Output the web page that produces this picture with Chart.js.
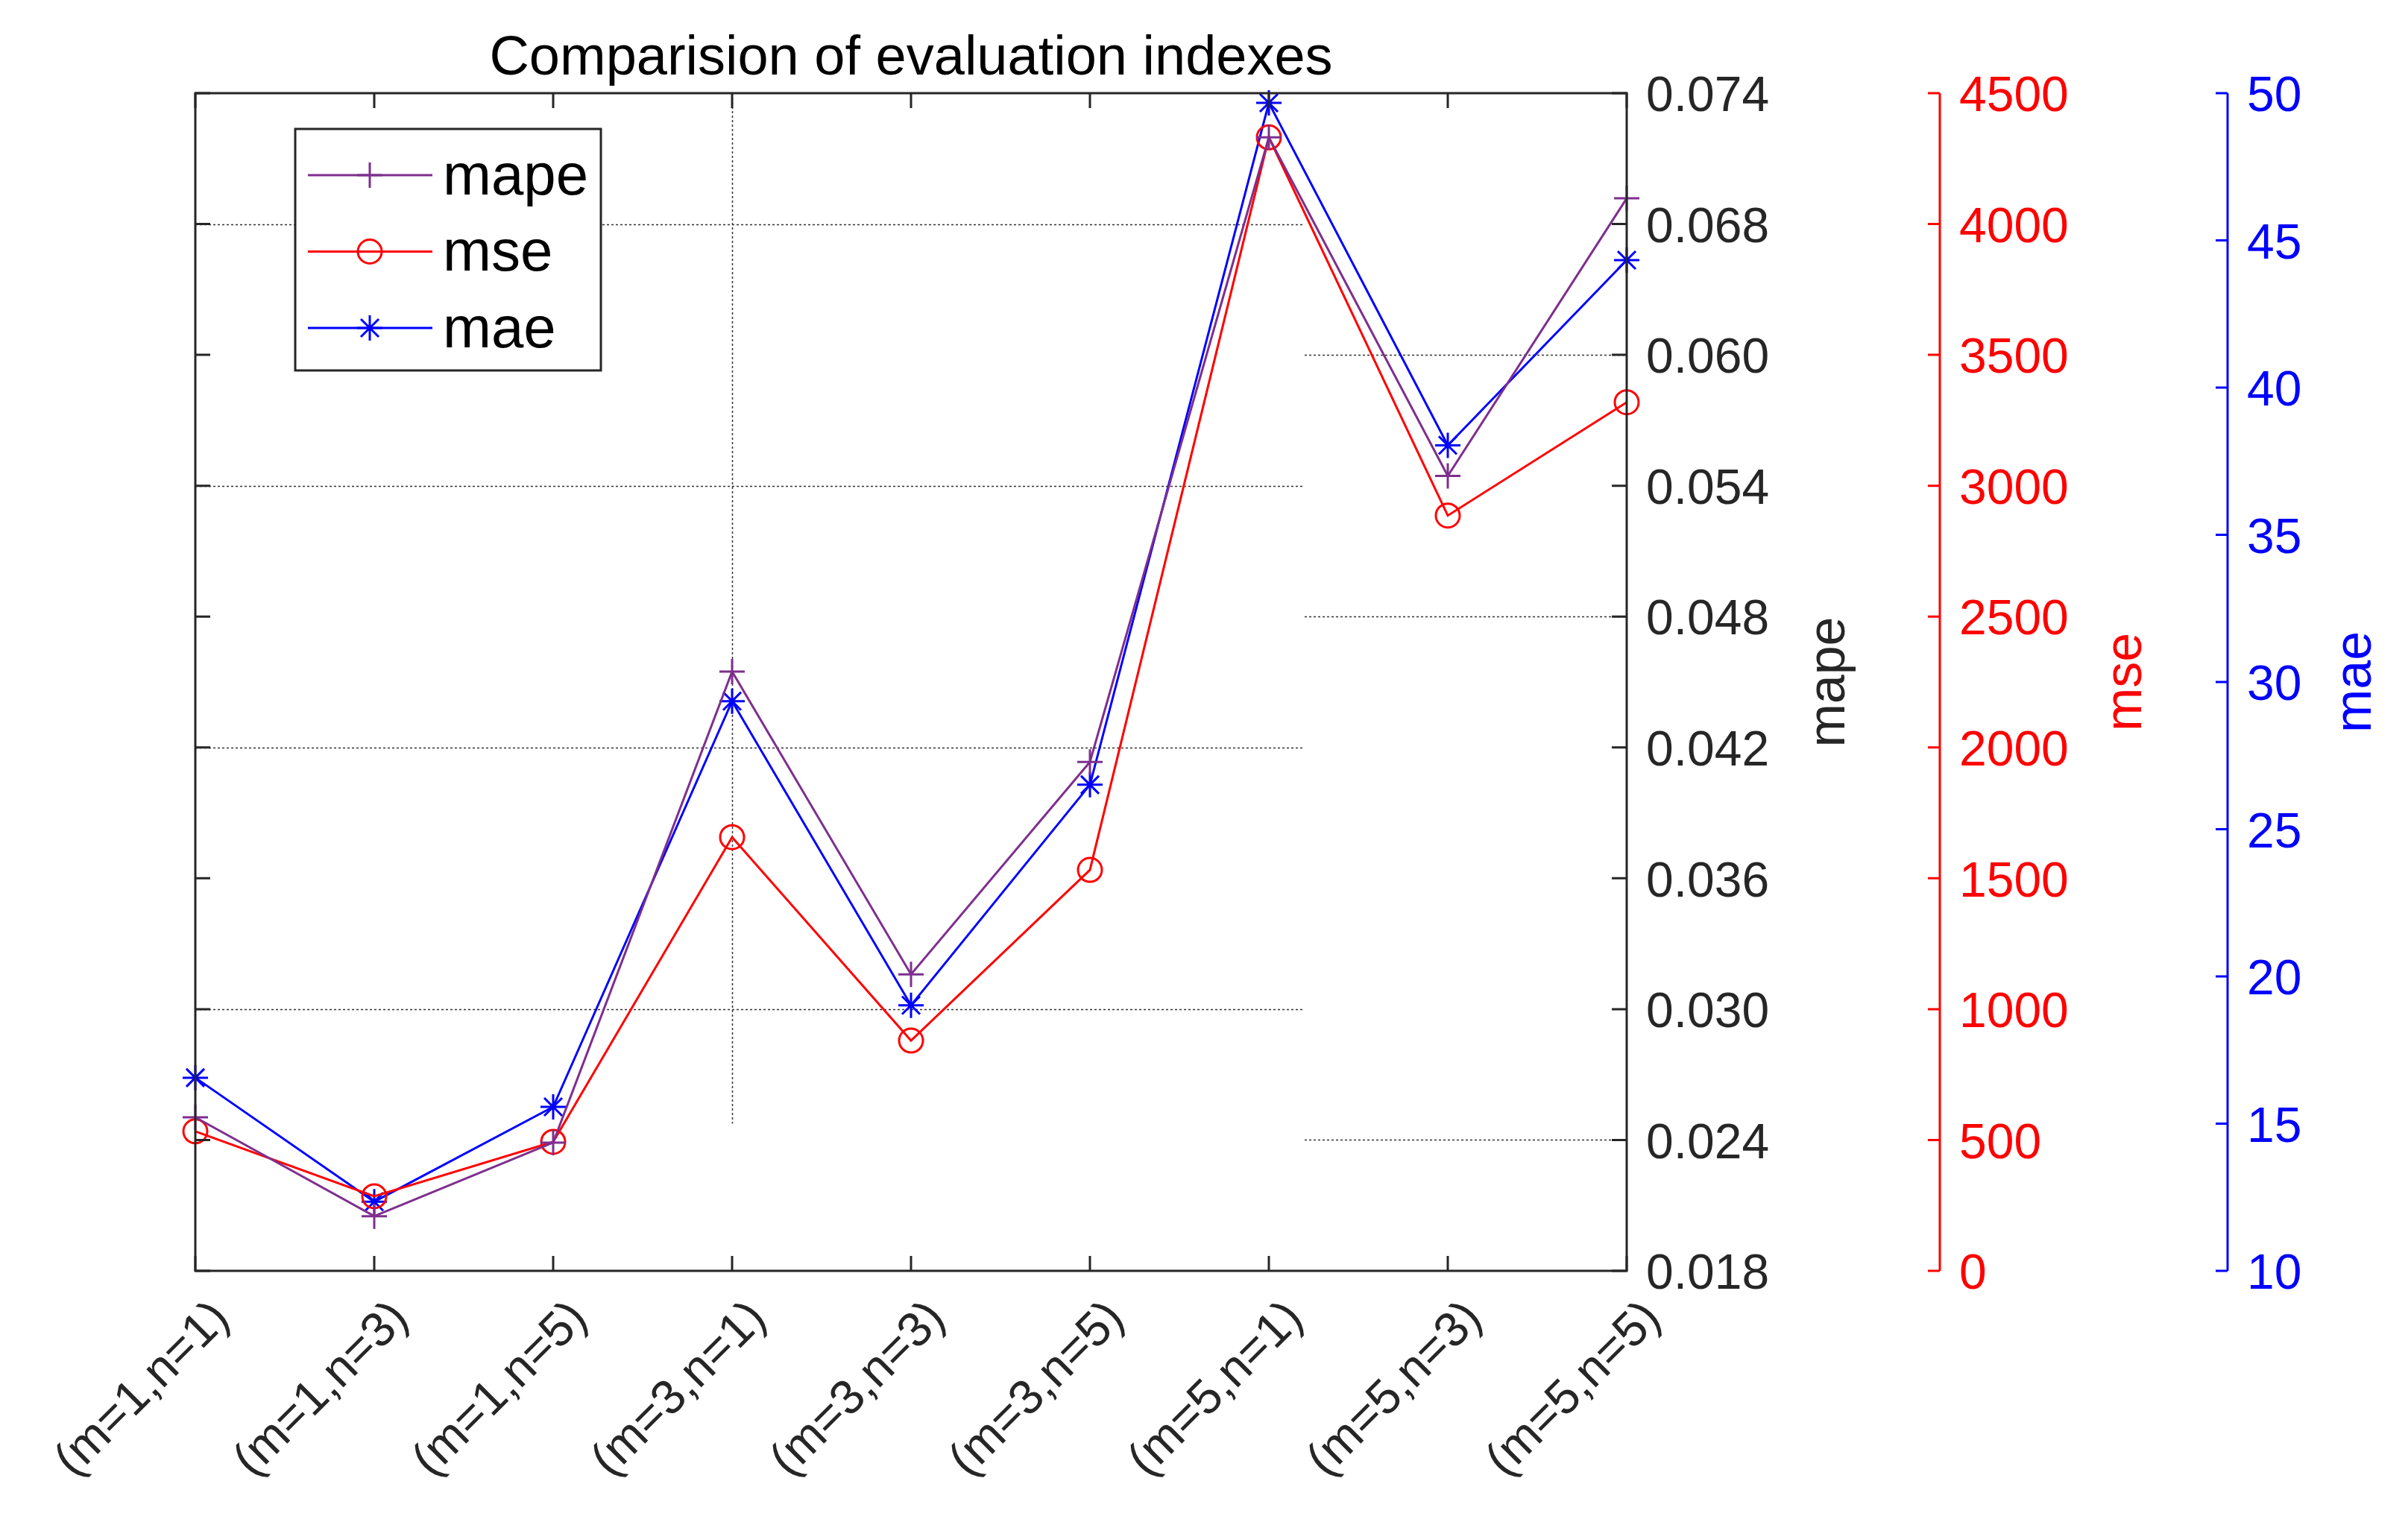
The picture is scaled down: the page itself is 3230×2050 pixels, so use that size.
<!DOCTYPE html>
<html>
<head>
<meta charset="utf-8">
<title>Comparision of evaluation indexes</title>
<script src="https://cdn.jsdelivr.net/npm/chart.js@4.4.0/dist/chart.umd.min.js"></script>
<style>
  html, body { margin: 0; padding: 0; background: #ffffff; }
  #wrap { width: 3230px; height: 2050px; position: relative; }
</style>
</head>
<body>
<div id="wrap"><canvas id="evalChart"></canvas></div>
<script>
// values
const categories = ['(m=1,n=1)', '(m=1,n=3)', '(m=1,n=5)', '(m=3,n=1)', '(m=3,n=3)',
                    '(m=3,n=5)', '(m=5,n=1)', '(m=5,n=3)', '(m=5,n=5)'];
const mapeValues = [0.0253, 0.0206, 0.0241, 0.0465, 0.0321, 0.0422, 0.0719, 0.0558, 0.0690];
const mseValues  = [533, 285, 493, 1657, 880, 1532, 4331, 2886, 3319];
const maeValues  = [16.56, 12.35, 15.57, 29.35, 19.02, 26.51, 49.67, 38.04, 44.33];

// axis ranges and tick labels
const mapeRange = [0.018, 0.074];
const mapeTickLabels = ['0.018', '0.024', '0.030', '0.036', '0.042', '0.048', '0.054', '0.060', '0.068', '0.074'];
const mseRange = [0, 4500];
const mseStep = 500;
const maeRange = [10, 50];
const maeStep = 5;

const FONT = "'Liberation Sans', Arial, Helvetica, sans-serif";
const AXIS_COLOR = '#262626';
const PURPLE = '#7E2F8E';
const RED = '#FF0000';
const BLUE = '#0000FF';

// partial grid lines as they appear in the figure: [mape tick index, from category, to category]
const hGrid = [[8, 0, 6.2], [7, 6.2, 8], [6, 0, 6.2], [5, 6.2, 8], [4, 0, 6.2], [2, 0, 6.2], [1, 6.2, 8]];
// vertical grid line at category 3, from mape value up to the top
const vGrid = [[3, 0.025]];

function drawMarker(ctx, style, x, y, r, color, lw) {
    ctx.save();
    ctx.strokeStyle = color;
    ctx.lineWidth = lw;
    ctx.beginPath();
    if (style === 'circle') {
        ctx.arc(x, y, r, 0, Math.PI * 2);
    } else {
        ctx.moveTo(x - r, y); ctx.lineTo(x + r, y);
        ctx.moveTo(x, y - r); ctx.lineTo(x, y + r);
        if (style === 'star') {
            const d = r * Math.SQRT1_2;
            ctx.moveTo(x - d, y - d); ctx.lineTo(x + d, y + d);
            ctx.moveTo(x - d, y + d); ctx.lineTo(x + d, y - d);
        }
    }
    ctx.stroke();
    ctx.restore();
}

// grid lines under the data
const gridPlugin = {
    id: 'matlabGrid',
    beforeDatasetsDraw(chart) {
        const {ctx, chartArea} = chart;
        const x = chart.scales.x, y = chart.scales.y;
        ctx.save();
        ctx.strokeStyle = '#333333';
        ctx.lineWidth = 1.5;
        ctx.setLineDash([3, 3]);
        hGrid.forEach(([ti, c0, c1]) => {
            const py = Math.round(y.getPixelForValue(y.ticks[ti].value)) + 0.5;
            ctx.beginPath();
            ctx.moveTo(x.getPixelForValue(c0), py);
            ctx.lineTo(x.getPixelForValue(c1), py);
            ctx.stroke();
        });
        vGrid.forEach(([c, v]) => {
            const px = Math.round(x.getPixelForValue(c)) + 0.5;
            ctx.beginPath();
            ctx.moveTo(px, chartArea.top);
            ctx.lineTo(px, y.getPixelForValue(v));
            ctx.stroke();
        });
        ctx.restore();
    }
};

// box, inward ticks, extra axis lines, legend and titles
const framePlugin = {
    id: 'matlabFrame',
    afterDatasetsDraw(chart) {
        const {ctx, chartArea: a} = chart;
        const x = chart.scales.x, y = chart.scales.y, y1 = chart.scales.y1, y2 = chart.scales.y2;
        const tl = 20;
        ctx.save();
        ctx.strokeStyle = AXIS_COLOR;
        ctx.lineWidth = 3;
        ctx.strokeRect(a.left, a.top, a.right - a.left, a.bottom - a.top);
        ctx.beginPath();
        y.ticks.forEach(t => {
            const py = y.getPixelForValue(t.value);
            ctx.moveTo(a.left, py); ctx.lineTo(a.left + tl, py);
            ctx.moveTo(a.right, py); ctx.lineTo(a.right - tl, py);
        });
        categories.forEach((c, i) => {
            const px = x.getPixelForValue(i);
            ctx.moveTo(px, a.top); ctx.lineTo(px, a.top + tl);
            ctx.moveTo(px, a.bottom); ctx.lineTo(px, a.bottom - tl);
        });
        ctx.stroke();

        [[y1, RED], [y2, BLUE]].forEach(([s, col]) => {
            ctx.strokeStyle = col;
            ctx.lineWidth = 3;
            ctx.beginPath();
            ctx.moveTo(s.left, a.top); ctx.lineTo(s.left, a.bottom);
            s.ticks.forEach(t => {
                const py = s.getPixelForValue(t.value);
                ctx.moveTo(s.left, py); ctx.lineTo(s.left - 16, py);
            });
            ctx.stroke();
        });

        // legend
        const lx = a.left + 134, ly = a.top + 48;
        ctx.fillStyle = '#ffffff';
        ctx.fillRect(lx, ly, 410, 324);
        ctx.strokeStyle = AXIS_COLOR;
        ctx.lineWidth = 3;
        ctx.strokeRect(lx, ly, 410, 324);
        ctx.font = '78px ' + FONT;
        ctx.textBaseline = 'middle';
        ctx.textAlign = 'left';
        chart.data.datasets.forEach((ds, i) => {
            const ry = ly + 62 + i * 102.5;
            ctx.strokeStyle = ds.borderColor;
            ctx.lineWidth = 3;
            ctx.beginPath();
            ctx.moveTo(lx + 17, ry); ctx.lineTo(lx + 184, ry);
            ctx.stroke();
            drawMarker(ctx, ds.pointStyle, lx + 100, ry, ds.pointRadius, ds.borderColor, 3);
            ctx.fillStyle = '#000000';
            ctx.fillText(ds.label, lx + 198, ry + 4);
        });
        ctx.restore();
    },
    afterDraw(chart) {
        const {ctx, chartArea: a} = chart;
        const y = chart.scales.y, y1 = chart.scales.y1, y2 = chart.scales.y2;
        ctx.save();
        ctx.fillStyle = '#000000';
        ctx.font = '74px ' + FONT;
        ctx.textAlign = 'center';
        ctx.textBaseline = 'alphabetic';
        ctx.fillText('Comparision of evaluation indexes', (a.left + a.right) / 2, a.top - 25);

        const cy = (a.top + a.bottom) / 2;
        [[y, 'mape', AXIS_COLOR, 273], [y1, 'mse', RED, 251], [y2, 'mae', BLUE, 173]].forEach(([s, txt, col, off]) => {
            ctx.save();
            ctx.translate(s.left + off, cy);
            ctx.rotate(-Math.PI / 2);
            ctx.fillStyle = col;
            ctx.font = '70px ' + FONT;
            ctx.textAlign = 'center';
            ctx.textBaseline = 'middle';
            ctx.fillText(txt, 0, 0);
            ctx.restore();
        });
        ctx.restore();
    }
};

const ctx = document.getElementById('evalChart').getContext('2d');
const evalChart = new Chart(ctx, {
    type: 'line',
    data: {
        labels: categories,
        datasets: [{
            label: 'mape',
            data: mapeValues,
            yAxisID: 'y',
            borderColor: PURPLE,
            backgroundColor: PURPLE,
            borderWidth: 3,
            pointStyle: 'cross',
            pointRadius: 17,
            pointBorderWidth: 3,
            pointBorderColor: PURPLE,
            tension: 0,
            clip: false
        }, {
            label: 'mse',
            data: mseValues,
            yAxisID: 'y1',
            borderColor: RED,
            backgroundColor: RED,
            borderWidth: 3,
            pointStyle: 'circle',
            pointRadius: 16,
            pointBorderWidth: 3,
            pointBorderColor: RED,
            pointBackgroundColor: 'rgba(0,0,0,0)',
            tension: 0,
            clip: false
        }, {
            label: 'mae',
            data: maeValues,
            yAxisID: 'y2',
            borderColor: BLUE,
            backgroundColor: BLUE,
            borderWidth: 3,
            pointStyle: 'star',
            pointRadius: 17,
            pointBorderWidth: 3,
            pointBorderColor: BLUE,
            tension: 0,
            clip: false
        }]
    },
    options: {
        responsive: true,
        maintainAspectRatio: false,
        devicePixelRatio: 1,
        animation: false,
        events: [],
        layout: { padding: { left: 262, top: 125, right: 0, bottom: 0 } },
        plugins: {
            legend: { display: false },
            title: { display: false },
            tooltip: { enabled: false }
        },
        scales: {
            x: {
                type: 'category',
                position: 'bottom',
                offset: false,
                grid: { display: false },
                border: { display: false },
                ticks: {
                    autoSkip: false,
                    maxRotation: 45,
                    minRotation: 45,
                    padding: 18,
                    labelOffset: 36,
                    color: AXIS_COLOR,
                    font: { family: FONT, size: 65 }
                },
                afterFit(scale) { scale.height = 345; }
            },
            y: {
                position: 'right',
                weight: 0,
                min: mapeRange[0],
                max: mapeRange[1],
                grid: { display: false },
                border: { display: false },
                afterBuildTicks(scale) {
                    const n = mapeTickLabels.length - 1;
                    scale.ticks = mapeTickLabels.map((t, i) => ({
                        value: mapeRange[0] + i * (mapeRange[1] - mapeRange[0]) / n
                    }));
                },
                ticks: {
                    padding: 18,
                    labelOffset: 6,
                    color: AXIS_COLOR,
                    font: { family: FONT, size: 66 },
                    callback: (v, i) => mapeTickLabels[i]
                },
                afterFit(scale) { scale.width = 420; }
            },
            y1: {
                position: 'right',
                weight: 1,
                min: mseRange[0],
                max: mseRange[1],
                grid: { display: false },
                border: { display: false },
                ticks: {
                    stepSize: mseStep,
                    padding: 18,
                    labelOffset: 6,
                    color: RED,
                    font: { family: FONT, size: 66 },
                    callback: v => String(v)
                },
                afterFit(scale) { scale.width = 386; }
            },
            y2: {
                position: 'right',
                weight: 2,
                min: maeRange[0],
                max: maeRange[1],
                grid: { display: false },
                border: { display: false },
                ticks: {
                    stepSize: maeStep,
                    padding: 18,
                    labelOffset: 6,
                    color: BLUE,
                    font: { family: FONT, size: 66 },
                    callback: v => String(v)
                },
                afterFit(scale) { scale.width = 242; }
            }
        }
    },
    plugins: [gridPlugin, framePlugin]
});
</script>
</body>
</html>
